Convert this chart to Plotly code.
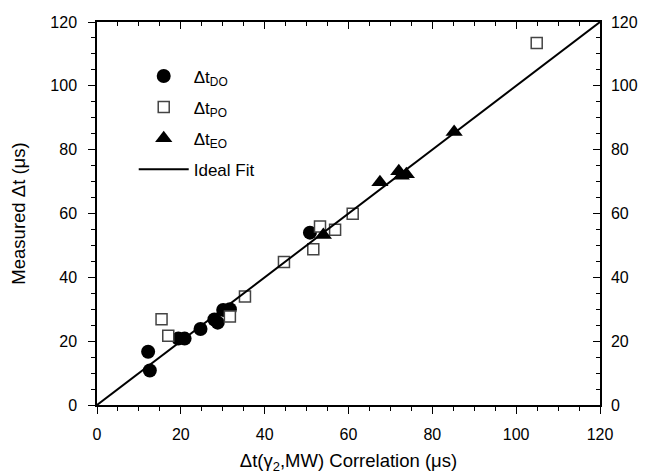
import plotly.graph_objects as go

# Data
do_x = [12.2, 12.6, 19.4, 20.9, 24.7, 28.0, 28.8, 30.1, 31.7, 50.8]
do_y = [16.7, 10.8, 20.8, 20.8, 23.8, 26.8, 25.8, 29.8, 30.0, 54.0]
po_x = [15.4, 17.0, 31.7, 35.3, 44.6, 51.6, 53.2, 56.8, 61.0, 104.9]
po_y = [26.9, 21.7, 27.7, 34.0, 44.8, 48.8, 55.9, 54.9, 59.9, 113.4]
eo_x = [54.0, 67.5, 72.0, 72.6, 73.8, 85.2]
eo_y = [53.3, 69.8, 73.2, 71.8, 72.3, 85.5]
fit_x = [0, 120]
fit_y = [0, 120]
tick_vals = [0, 20, 40, 60, 80, 100, 120]

FONT = "Arial, Liberation Sans, sans-serif"

fig = go.Figure()
fig.add_trace(go.Scatter(x=do_x, y=do_y, mode="markers", name="Δt<sub>DO</sub>",
                         legendgroup="a",
                         marker=dict(symbol="circle", size=14, color="black",
                                     line=dict(width=0))))
fig.add_trace(go.Scatter(x=po_x, y=po_y, mode="markers", name="Δt<sub>PO</sub>",
                         legendgroup="b",
                         marker=dict(symbol="square", size=11, color="white",
                                     line=dict(width=1.5, color="#444"))))
fig.add_trace(go.Scatter(x=eo_x, y=eo_y, mode="markers", name="Δt<sub>EO</sub>",
                         legendgroup="c",
                         marker=dict(symbol="triangle-up", size=15, color="black",
                                     line=dict(width=0))))
fig.add_trace(go.Scatter(x=fit_x, y=fit_y, mode="lines", name="Ideal Fit",
                         legendgroup="d",
                         line=dict(color="black", width=2)))
# helper trace for the mirrored top/right axes
fig.add_trace(go.Scatter(x=[None], y=[None], xaxis="x2", yaxis="y2",
                         showlegend=False, hoverinfo="skip"))

axis_common = dict(range=[0, 120], showgrid=False, zeroline=False,
                   showline=True, linecolor="black", linewidth=1.5,
                   tickvals=tick_vals, tickcolor="black", tickwidth=1.2,
                   automargin=False,
                   tickfont=dict(family=FONT, size=16, color="black"))
minor_out = dict(dtick=5, ticks="outside", ticklen=4, tickcolor="black", tickwidth=1.2)
minor_in = dict(dtick=5, ticks="inside", ticklen=4, tickcolor="black", tickwidth=1.2)

fig.update_layout(
    width=653, height=476,
    margin=dict(l=97, r=53, t=22, b=71),
    paper_bgcolor="white", plot_bgcolor="white",
    font=dict(family=FONT, color="black"),
    xaxis=dict(**axis_common, ticks="outside", ticklen=7, minor=minor_out,
               ticklabelstandoff=7,
               title=dict(text="Δt(γ<sub>2</sub>,MW) Correlation (μs)",
                          font=dict(family=FONT, size=18.5), standoff=12)),
    yaxis=dict(**axis_common, ticks="outside", ticklen=7, minor=minor_out,
               ticklabelstandoff=8,
               title=dict(text="Measured Δt (μs)", font=dict(family=FONT, size=18.5),
                          standoff=20)),
    xaxis2=dict(**axis_common, overlaying="x", side="top", ticks="inside", ticklen=7,
                showticklabels=False, minor=minor_in),
    yaxis2=dict(**axis_common, overlaying="y", side="right", ticks="inside", ticklen=7,
                showticklabels=True, ticklabelstandoff=6, minor=minor_in),
    legend=dict(x=0.073, y=0.905, xanchor="left", yanchor="top",
                bgcolor="rgba(0,0,0,0)", borderwidth=0,
                font=dict(family=FONT, size=17, color="black"),
                tracegroupgap=6, itemwidth=50),
    showlegend=True,
)

fig.write_html("out.html", config={"displayModeBar": False},
               post_script="document.body.style.margin='0px';")
